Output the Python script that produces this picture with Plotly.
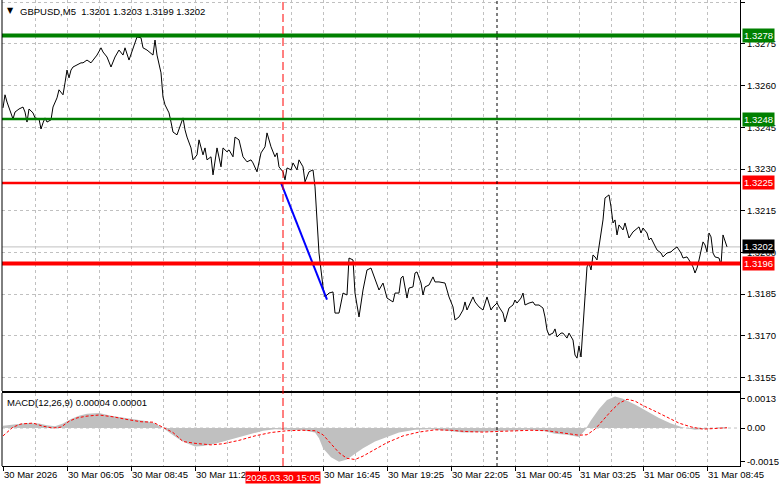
import plotly.graph_objects as go

# ---------------- data ----------------
price_bars = [0, 1, 2, 3, 4, 5, 6, 8, 10, 11, 12, 13, 15, 16, 18, 19, 20, 21, 22, 24, 25, 27, 28, 30, 31, 32,
              33, 34, 35, 37, 39, 40, 42, 44, 45, 47, 49, 50, 52, 54, 56, 58, 60, 61, 63, 65, 66, 67, 69, 70,
              72, 75, 76, 77, 79, 80, 81, 83, 84, 85, 87, 89, 90, 91, 92, 94, 95, 97, 98, 100, 101, 102, 104,
              105, 107, 109, 110, 112, 113, 115, 116, 118, 120, 122, 124, 125, 127, 129, 131, 132, 134, 136,
              137, 138, 140, 141, 142, 144, 145, 147, 148, 150, 151, 153, 155, 156, 157, 158, 160, 161, 163,
              165, 166, 168, 170, 172, 173, 175, 176, 178, 180, 182, 184, 185, 188, 190, 192, 195, 196, 198,
              199, 200, 202, 203, 205, 206, 207, 209, 210, 211, 213, 215, 216, 218, 220, 221, 223, 225, 226,
              228, 230, 231, 232, 235, 236, 238, 240, 241, 242, 244, 245, 247, 248, 250, 251, 253, 255, 256,
              257, 259, 260, 261, 263, 265, 266, 268, 270, 271, 272, 273, 275, 276, 277, 279, 280, 282, 283,
              285, 286, 287, 288, 289, 290, 291, 292, 293, 294, 295, 296, 297, 298, 300, 301, 303, 304, 305,
              306, 307, 308, 310, 311, 312, 313, 315, 317, 318, 319, 320, 322, 323, 324, 325, 327, 329, 330,
              332, 334, 335, 337, 338, 339, 340, 342, 343, 345, 346, 347, 348, 350, 351, 352, 353, 354, 355,
              356, 358, 359, 360, 361, 362]
price_close = [1.32520, 1.32567, 1.32541, 1.32520, 1.32505, 1.32480, 1.32505, 1.32516, 1.32523, 1.32505,
               1.32469, 1.32516, 1.32502, 1.32484, 1.32480, 1.32444, 1.32466, 1.32484, 1.32469, 1.32477,
               1.32523, 1.32556, 1.32585, 1.32567, 1.32610, 1.32656, 1.32628, 1.32656, 1.32667, 1.32674,
               1.32682, 1.32682, 1.32692, 1.32682, 1.32692, 1.32710, 1.32736, 1.32721, 1.32703, 1.32667,
               1.32703, 1.32728, 1.32710, 1.32736, 1.32692, 1.32736, 1.32754, 1.32775, 1.32772, 1.32736,
               1.32728, 1.32710, 1.32764, 1.32710, 1.32646, 1.32559, 1.32531, 1.32502, 1.32469, 1.32433,
               1.32423, 1.32459, 1.32484, 1.32441, 1.32415, 1.32376, 1.32333, 1.32351, 1.32405, 1.32351,
               1.32376, 1.32333, 1.32344, 1.32279, 1.32376, 1.32308, 1.32376, 1.32362, 1.32369, 1.32344,
               1.32415, 1.32405, 1.32344, 1.32326, 1.32333, 1.32322, 1.32290, 1.32358, 1.32380, 1.32430,
               1.32380, 1.32344, 1.32358, 1.32308, 1.32290, 1.32261, 1.32304, 1.32297, 1.32322, 1.32297,
               1.32333, 1.32308, 1.32254, 1.32290, 1.32297, 1.32236, 1.32117, 1.31998, 1.31876, 1.31840,
               1.31854, 1.31858, 1.31782, 1.31782, 1.31854, 1.31847, 1.31980, 1.31973, 1.31854, 1.31768,
               1.31865, 1.31937, 1.31944, 1.31926, 1.31865, 1.31890, 1.31836, 1.31822, 1.31854, 1.31854,
               1.31908, 1.31915, 1.31836, 1.31872, 1.31876, 1.31926, 1.31930, 1.31890, 1.31847, 1.31876,
               1.31883, 1.31912, 1.31894, 1.31894, 1.31890, 1.31890, 1.31840, 1.31804, 1.31757, 1.31768,
               1.31793, 1.31822, 1.31793, 1.31840, 1.31822, 1.31804, 1.31793, 1.31822, 1.31840, 1.31793,
               1.31804, 1.31818, 1.31804, 1.31782, 1.31750, 1.31800, 1.31811, 1.31829, 1.31818, 1.31836,
               1.31854, 1.31811, 1.31818, 1.31822, 1.31811, 1.31811, 1.31800, 1.31768, 1.31721, 1.31703,
               1.31710, 1.31725, 1.31696, 1.31710, 1.31710, 1.31692, 1.31710, 1.31685, 1.31631, 1.31620,
               1.31664, 1.31624, 1.31732, 1.31836, 1.31948, 1.31962, 1.31937, 1.31991, 1.31984, 1.31973,
               1.32020, 1.32117, 1.32196, 1.32207, 1.32164, 1.32106, 1.32117, 1.32063, 1.32099, 1.32081,
               1.32106, 1.32074, 1.32052, 1.32074, 1.32088, 1.32092, 1.32070, 1.32088, 1.32070, 1.32045,
               1.32052, 1.32038, 1.32009, 1.31998, 1.31984, 1.31998, 1.32002, 1.32009, 1.32020, 1.32009,
               1.31998, 1.31980, 1.31984, 1.31973, 1.31948, 1.31926, 1.31944, 1.31973, 1.32038, 1.32027,
               1.32002, 1.32070, 1.32056, 1.31998, 1.31984, 1.31980, 1.31955, 1.32063, 1.32045, 1.32020]

level_green = [1.3278, 1.3248]
level_green_width = [4, 2.5]
level_red = [1.3225, 1.3196]
level_red_width = [2.5, 4]
last_price = 1.3202

trend_bars = [139, 162]
trend_prices = [1.3225, 1.3183]
signal_bar = 140
signal_label = "2026.03.30 15:05"
day_sep_bar = 247

macd_bars = [0, 6, 12, 18, 22, 26, 30, 34, 38, 42, 48, 54, 60, 66, 72, 76, 80, 84, 88, 92, 96, 100, 106,
             112, 118, 124, 130, 136, 142, 150, 156, 158, 160, 164, 168, 172, 176, 180, 186, 192, 198, 206,
             214, 222, 230, 238, 246, 254, 262, 270, 276, 282, 288, 291, 294, 298, 302, 306, 310, 316, 322,
             328, 334, 340, 346, 352, 358, 362]
macd_main = [0.00010, 0.00015, 0.00022, 0.00020, 0.00012, 0.00008, 0.00020, 0.00040, 0.00055, 0.00064,
             0.00067, 0.00055, 0.00046, 0.00039, 0.00030, 0.00020, 0.00000, -0.00025, -0.00050, -0.00068,
             -0.00082, -0.00080, -0.00070, -0.00055, -0.00040, -0.00025, -0.00012, -0.00005, -0.00008,
             -0.00010, -0.00020, -0.00045, -0.00090, -0.00130, -0.00150, -0.00140, -0.00115, -0.00090,
             -0.00060, -0.00040, -0.00020, -0.00008, -0.00005, -0.00012, -0.00020, -0.00018, -0.00015,
             -0.00010, -0.00008, -0.00012, -0.00025, -0.00030, -0.00040, -0.00010, 0.00035, 0.00085,
             0.00125, 0.00140, 0.00130, 0.00105, 0.00075, 0.00045, 0.00020, 0.00002, -0.00008, -0.00002,
             0.00002, 0.00004]
sig_bars = [0, 5, 9, 15, 20, 25, 29, 33, 37, 42, 48, 55, 62, 69, 75, 80, 85, 90, 96, 104, 110, 118, 126,
            134, 142, 150, 156, 160, 164, 168, 172, 176, 180, 186, 192, 200, 208, 216, 224, 232, 240, 248,
            256, 264, 272, 280, 288, 292, 296, 300, 304, 308, 312, 316, 320, 326, 332, 338, 344, 350, 356, 362]
macd_signal = [-0.00035, 0.00004, 0.00018, 0.00022, 0.00008, 0.00000, 0.00004, 0.00030, 0.00045, 0.00053,
               0.00058, 0.00050, 0.00038, 0.00028, 0.00026, 0.00004, -0.00020, -0.00060, -0.00068, -0.00075,
               -0.00070, -0.00055, -0.00035, -0.00020, -0.00012, -0.00010, -0.00012, -0.00030, -0.00070,
               -0.00110, -0.00135, -0.00140, -0.00125, -0.00095, -0.00065, -0.00035, -0.00018, -0.00008,
               -0.00010, -0.00016, -0.00018, -0.00015, -0.00012, -0.00010, -0.00012, -0.00022, -0.00032,
               -0.00030, -0.00005, 0.00035, 0.00075, 0.00110, 0.00128, 0.00120, 0.00100, 0.00075, 0.00048,
               0.00022, 0.00005, -0.00005, -0.00002, 0.00001]

time_tick_bars = [0, 32, 64, 96, 128, 160, 192, 224, 256, 288, 320, 352]
time_tick_labels = ["30 Mar 2026", "30 Mar 06:05", "30 Mar 08:45", "30 Mar 11:25", "30 Mar 14:05",
                    "30 Mar 16:45", "30 Mar 19:25", "30 Mar 22:05", "31 Mar 00:45", "31 Mar 03:25",
                    "31 Mar 06:05", "31 Mar 08:45"]
price_ticks = [1.3155, 1.3170, 1.3185, 1.3200, 1.3215, 1.3230, 1.3245, 1.3260, 1.3275, 1.3290]
macd_ticks = [0.0013, 0.0, -0.0015]
macd_tick_labels = ["0.0013", "0.00", "-0.0015"]

title_text = "GBPUSD,M5\u00a0\u00a01.3201 1.3203 1.3199 1.3202"
macd_text = "MACD(12,26,9) 0.00004 0.00001"

# ---------------- figure ----------------
FONT = "Liberation Sans, Arial, sans-serif"
FS = 9.5
GRID = "#c0c0c0"

fig = go.Figure()
fig.add_trace(go.Scatter(x=price_bars, y=price_close, mode="lines",
                         line=dict(color="black", width=1), xaxis="x", yaxis="y", hoverinfo="skip"))
fig.add_trace(go.Scatter(x=macd_bars, y=macd_main, mode="lines", fill="tozeroy", fillcolor="#c0c0c0",
                         line=dict(color="#c0c0c0", width=0), xaxis="x2", yaxis="y2", hoverinfo="skip"))
fig.add_trace(go.Scatter(x=sig_bars, y=macd_signal, mode="lines",
                         line=dict(color="#ff0000", width=1, dash="3px,2px"), xaxis="x2", yaxis="y2",
                         hoverinfo="skip"))

shapes = []
shapes.append(dict(type="line", xref="x domain", x0=0, x1=1, yref="y", y0=last_price, y1=last_price,
                   line=dict(color="#c0c0c0", width=1), layer="below"))
for lvl, w in zip(level_green, level_green_width):
    shapes.append(dict(type="line", xref="x domain", x0=0, x1=1, yref="y", y0=lvl, y1=lvl,
                       line=dict(color="#008000", width=w)))
for lvl, w in zip(level_red, level_red_width):
    shapes.append(dict(type="line", xref="x domain", x0=0, x1=1, yref="y", y0=lvl, y1=lvl,
                       line=dict(color="#ff0000", width=w)))
shapes.append(dict(type="line", xref="x", x0=signal_bar, x1=signal_bar, yref="paper", y0=0, y1=1,
                   line=dict(color="#ff0000", width=1, dash="8px,4px")))
shapes.append(dict(type="line", xref="x", x0=day_sep_bar, x1=day_sep_bar, yref="paper", y0=0, y1=1,
                   line=dict(color="black", width=1, dash="3px,3px")))
shapes.append(dict(type="line", xref="x2 domain", x0=0, x1=1, yref="y2", y0=0, y1=0,
                   line=dict(color=GRID, width=1, dash="3px,3px"), layer="below"))
shapes.append(dict(type="line", xref="x domain", x0=0, x1=0, yref="y domain", y0=0, y1=1,
                   line=dict(color="black", width=1)))
shapes.append(dict(type="line", xref="x2 domain", x0=0, x1=0, yref="y2 domain", y0=0, y1=1,
                   line=dict(color="black", width=1)))

fig.add_trace(go.Scatter(x=trend_bars, y=trend_prices, mode="lines",
                         line=dict(color="#0000ff", width=2), xaxis="x", yaxis="y", hoverinfo="skip"))

annotations = []
for lvl in level_green:
    annotations.append(dict(text=f"{lvl:.4f}", x=1, xref="paper", xanchor="left", xshift=2,
                            y=lvl, yref="y", yanchor="middle", showarrow=False, bgcolor="#008000",
                            borderpad=1, font=dict(color="white", size=FS, family=FONT)))
for lvl in level_red:
    annotations.append(dict(text=f"{lvl:.4f}", x=1, xref="paper", xanchor="left", xshift=2,
                            y=lvl, yref="y", yanchor="middle", showarrow=False, bgcolor="#ff0000",
                            borderpad=1, font=dict(color="white", size=FS, family=FONT)))
annotations.append(dict(text=f"{last_price:.4f}", x=1, xref="paper", xanchor="left", xshift=2,
                        y=last_price, yref="y", yanchor="middle", showarrow=False, bgcolor="black",
                        borderpad=1, font=dict(color="white", size=FS, family=FONT)))
annotations.append(dict(text=signal_label, x=signal_bar, xref="x2", xanchor="center",
                        y=0, yref="paper", yanchor="top", yshift=-5, showarrow=False, bgcolor="#ff0000",
                        borderpad=0, font=dict(color="white", size=FS, family=FONT)))
annotations.append(dict(text="\u25bc", x=0, xref="x domain", xanchor="left", xshift=3,
                        y=1, yref="y domain", yanchor="top", yshift=-4, showarrow=False,
                        font=dict(color="black", size=8, family="DejaVu Sans")))
annotations.append(dict(text=title_text, x=0, xref="x domain", xanchor="left", xshift=16,
                        y=1, yref="y domain", yanchor="top", yshift=-4, showarrow=False,
                        font=dict(color="black", size=FS, family=FONT)))
annotations.append(dict(text=macd_text, x=0, xref="x2 domain", xanchor="left", xshift=3,
                        y=1, yref="y2 domain", yanchor="top", yshift=-2, showarrow=False,
                        font=dict(color="black", size=FS, family=FONT)))

xcommon = dict(range=[-0.5, 368.5], tickmode="array", tickvals=time_tick_bars, ticktext=time_tick_labels,
               showgrid=True, gridcolor=GRID, griddash="3px,3px", gridwidth=1, zeroline=False,
               minor=dict(tickmode="linear", tick0=0, dtick=16, showgrid=True, gridcolor=GRID,
                          griddash="3px,3px", gridwidth=1, ticks=""),
               showline=True, linecolor="black", linewidth=1, automargin=False, tickangle=0)

fig.update_layout(
    width=781, height=489,
    margin=dict(l=2, r=41, t=0, b=23, autoexpand=False),
    paper_bgcolor="white", plot_bgcolor="white",
    showlegend=False,
    font=dict(family=FONT, size=FS, color="black"),
    xaxis=dict(**xcommon, anchor="y", domain=[0, 1], showticklabels=False, ticks="", matches="x2"),
    xaxis2=dict(**xcommon, anchor="y2", domain=[0, 1], showticklabels=True, ticks="outside", ticklen=4,
                tickcolor="black", ticklabelposition="outside right", mirror=True,
                tickfont=dict(size=FS, family=FONT, color="black")),
    yaxis=dict(domain=[0.161, 1], range=[1.315018, 1.32908], side="right", anchor="x",
               tickmode="array", tickvals=price_ticks, ticktext=[f"{t:.4f}" for t in price_ticks],
               ticks="outside", ticklen=4, tickcolor="black", showgrid=True, gridcolor=GRID,
               griddash="3px,3px", zeroline=False, showline=True, linecolor="black", linewidth=1,
               automargin=False, tickfont=dict(size=FS, family=FONT, color="black")),
    yaxis2=dict(domain=[0, 0.1567], range=[-0.00169, 0.00156], side="right", anchor="x2",
                tickmode="array", tickvals=macd_ticks, ticktext=macd_tick_labels,
                ticks="outside", ticklen=4, tickcolor="black", showgrid=False, zeroline=False,
                showline=True, linecolor="black", linewidth=1, automargin=False,
                tickfont=dict(size=FS, family=FONT, color="black")),
    shapes=shapes,
    annotations=annotations,
)

fig.write_html("out.html", config={"displayModeBar": False},
               post_script="document.body.style.margin='0px';document.body.style.overflow='hidden';")
